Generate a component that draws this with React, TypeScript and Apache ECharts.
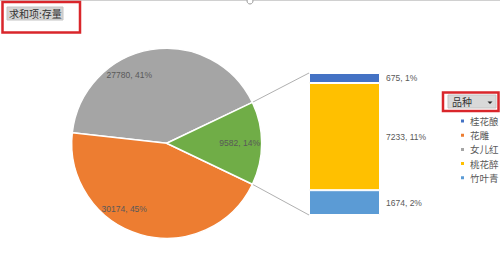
import React, { useEffect, useRef } from "react";
import * as echarts from "echarts";

// ---- data ----
const pieNames = ["女儿红", "花雕"];
const pieValues = [27780, 30174];
const otherName = "其他";
const barNames = ["竹叶青", "桃花醉", "桂花酿"]; // bottom -> top
const barValues = [1674, 7233, 675];
const legendOrder = ["桂花酿", "花雕", "女儿红", "桃花醉", "竹叶青"];
const colorMap: Record<string, string> = {
  桂花酿: "#4472C4",
  花雕: "#ED7D31",
  女儿红: "#A5A5A5",
  桃花醉: "#FFC000",
  竹叶青: "#5B9BD5",
  其他: "#70AD47",
};
const fieldLabel = "求和项:存量";
const legendTitle = "品种";

// ---- layout ----
const PIE_CX = 166.7;
const PIE_CY = 143.3;
const PIE_R = 95;
const BAR_LEFT = 309;
const BAR_TOP = 73;
const BAR_W = 71;
const BAR_H = 142;

const FONT = "'Liberation Sans', 'Noto Sans CJK SC', sans-serif";
const CJK = "'Noto Sans CJK SC', sans-serif";
const LABEL_COLOR = "#595959";
const RED = "#D9262B";

export default function App() {
  const ref = useRef<HTMLDivElement>(null);
  useEffect(() => {
    if (!ref.current) return;
    const chart = echarts.init(ref.current, null, { renderer: "svg" });
    const otherValue = barValues.reduce((a, b) => a + b, 0);
    const total = pieValues.reduce((a, b) => a + b, 0) + otherValue;
    const pct = (v: number) => Math.round((v / total) * 100) + "%";
    const half = (otherValue / total) * 180; // degrees
    const rad = (half * Math.PI) / 180;
    const topPt = [PIE_CX + PIE_R * Math.cos(rad), PIE_CY - PIE_R * Math.sin(rad)];
    const botPt = [PIE_CX + PIE_R * Math.cos(rad), PIE_CY + PIE_R * Math.sin(rad)];

    const pieData = [
      ...pieNames.map((n, i) => ({ name: n, value: pieValues[i], itemStyle: { color: colorMap[n] } })),
      { name: otherName, value: otherValue, itemStyle: { color: colorMap[otherName] } },
    ];
    const labelOffsets = [
      { dx: -29, dy: -18.5 },
      { dx: -28.6, dy: 16.7 },
      { dx: 22.5, dy: 0 },
    ];

    const option: any = {
      animation: false,
      grid: { left: BAR_LEFT, top: BAR_TOP, width: BAR_W, height: BAR_H },
      xAxis: { type: "category", data: [otherName], show: false },
      yAxis: { type: "value", min: 0, max: otherValue, show: false },
      legend: {
        orient: "vertical",
        left: 454,
        top: 110,
        icon: "rect",
        itemWidth: 5,
        itemHeight: 5,
        itemGap: 2.2,
        data: legendOrder.map((n) => ({
          name: n,
          itemStyle: { color: colorMap[n] },
          textStyle: { color: LABEL_COLOR },
        })),
        textStyle: { fontSize: 9.5, lineHeight: 12, color: LABEL_COLOR, fontFamily: CJK },
      },
      series: [
        {
          type: "pie",
          center: [PIE_CX, PIE_CY],
          radius: PIE_R,
          startAngle: half,
          clockwise: false,
          data: pieData,
          itemStyle: { borderColor: "#fff", borderWidth: 1.5 },
          label: {
            position: "inside",
            rotate: 0,
            fontSize: 8.5,
            fontFamily: FONT,
            color: LABEL_COLOR,
            formatter: (p: any) => `${p.value}, ${pct(p.value)}`,
          },
          labelLayout: (p: any) => labelOffsets[p.dataIndex],
          emphasis: { disabled: true },
        },
        ...barNames.map((n, i) => ({
          type: "bar",
          name: n,
          stack: "other",
          data: [barValues[i]],
          barWidth: "100%",
          itemStyle: { color: colorMap[n], borderColor: "#fff", borderWidth: 1 },
          label: {
            show: true,
            position: "right",
            distance: 6,
            fontSize: 8.5,
            fontFamily: FONT,
            color: LABEL_COLOR,
            formatter: (p: any) => `${p.value}, ${pct(p.value)}`,
          },
          emphasis: { disabled: true },
        })),
      ],
      graphic: [
        // top chart frame line & handle
        { type: "line", shape: { x1: 0, y1: 0.5, x2: 500, y2: 0.5 }, style: { stroke: "#d0d0d0", lineWidth: 1 } },
        { type: "circle", shape: { cx: 250, cy: 1, r: 3 }, style: { fill: "#fff", stroke: "#9a9a9a", lineWidth: 1 } },
        // connectors
        {
          type: "line",
          shape: { x1: topPt[0], y1: topPt[1], x2: BAR_LEFT, y2: BAR_TOP },
          style: { stroke: "#b0b0b0", lineWidth: 1 },
          z: 0,
        },
        {
          type: "line",
          shape: { x1: botPt[0], y1: botPt[1], x2: BAR_LEFT, y2: BAR_TOP + BAR_H },
          style: { stroke: "#b0b0b0", lineWidth: 1 },
          z: 0,
        },
        // field button top-left
        { type: "rect", shape: { x: 7, y: 7, width: 56, height: 13 }, style: { fill: "#d3d3d3", stroke: "#c4c4c4", lineWidth: 1 } },
        {
          type: "text",
          x: 9,
          y: 13.5,
          style: { text: fieldLabel, fontSize: 10, fontFamily: CJK, fill: "#333", verticalAlign: "middle" },
        },
        { type: "rect", shape: { x: 2.5, y: 2, width: 77.5, height: 30.5 }, style: { fill: "none", stroke: RED, lineWidth: 2.5 } },
        // legend field button
        { type: "rect", shape: { x: 448, y: 95, width: 48, height: 13 }, style: { fill: "#d9d9d9", stroke: "#c4c4c4", lineWidth: 1 } },
        {
          type: "text",
          x: 452,
          y: 101.5,
          style: { text: legendTitle, fontSize: 10, fontFamily: CJK, fill: "#333", verticalAlign: "middle" },
        },
        {
          type: "polygon",
          shape: { points: [[487.5, 101.5], [492.5, 101.5], [490, 104]] },
          style: { fill: "#222" },
        },
        { type: "rect", shape: { x: 443, y: 92.5, width: 55.5, height: 18.5 }, style: { fill: "none", stroke: RED, lineWidth: 2.5 } },
      ],
    };
    chart.setOption(option);
    return () => chart.dispose();
  }, []);
  return (
    <div
      ref={ref}
      style={{ position: "absolute", left: 0, top: 0, width: 500, height: 263, background: "#fff" }}
    />
  );
}
